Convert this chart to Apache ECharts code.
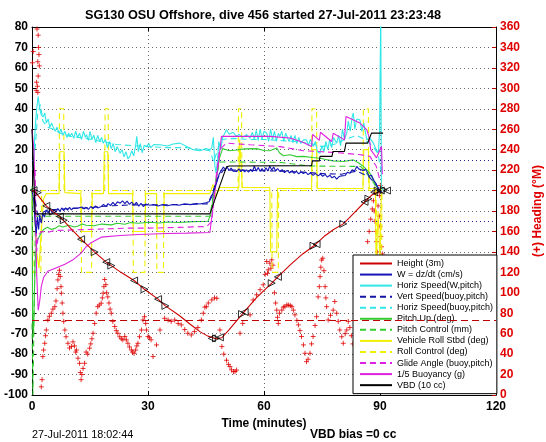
<!DOCTYPE html>
<html><head><meta charset="utf-8">
<script src="https://cdn.jsdelivr.net/npm/echarts@6/dist/echarts.min.js"></script>
<style>html,body{margin:0;padding:0;background:#fff}#c{width:546px;height:442px}</style>
</head><body><div id="c"></div>
<script>
var titleText = 'SG130 OSU Offshore, dive 456 started 27-Jul-2011 23:23:48';
var xTitle = 'Time (minutes)';
var rightTitle = '(+) Heading (\u00B0M)';
var footDate = '27-Jul-2011 18:02:44';
var footBias = 'VBD bias =0 cc';
var seriesNames = ['Height (3m)','W = dz/dt (cm/s)','Horiz Speed(W,pitch)','Vert Speed(buoy,pitch)','Horiz Speed(buoy,pitch)','Pitch Up (deg)','Pitch Control (mm)','Vehicle Roll Stbd (deg)','Roll Control (deg)','Glide Angle (buoy,pitch)','1/5 Buoyancy (g)','VBD (10 cc)'];
var wTargets = [15, -15];
var headingTarget = 73.6;

var heightData = [[0,0],[0.7,-0.5],[2,-3.5],[3.7,-7.5],[5.4,-10.3],[7.2,-12.7],[8,-14.3],[10,-18.5],[12.7,-23.8],[16.2,-30.1],[19.2,-35],[20.5,-36.7],[23,-40],[26.4,-44],[29.1,-48.3],[32.6,-53.1],[34.5,-56.4],[38,-61],[41,-65.5],[43.4,-69],[45.5,-71.2],[47.5,-72.5],[49.1,-72],[51,-68],[54.6,-60],[58,-52.5],[62,-45.3],[63.7,-42],[67,-36],[70,-31],[73.2,-26.6],[75.5,-22.5],[77.9,-19.2],[80.5,-16.3],[83,-11.5],[86.6,-4.5],[88,-2],[90,-0.5]];

var triangleData = [[0.4,0.2],[1.5,-1],[3.7,-7.5],[5.4,-10.3],[7.2,-12.7],[8.2,-14.5],[12.7,-23.8],[16.2,-30.1],[19.2,-35],[20.5,-36.7],[26.4,-44],[29.1,-48.3],[32.6,-53.1],[34.5,-56.4],[46.5,-72.3],[47.6,-72.3],[48.6,-71.8],[54.3,-60.4],[55,-59.4],[62,-45.3],[63.6,-42.2],[72.8,-27],[73.6,-26.2],[80.5,-16.3],[86,-5.5],[87,-4],[88.5,-0.8],[89.4,0],[90.2,0],[91,0.3],[91.8,0]];

var wData = [[0,0],[0.4,-4],[0.8,-16],[1.1,-21],[1.4,-13],[1.7,-19],[2,-12],[2.4,-16],[2.8,-11],[3.2,-13],[3.7,-9.5],[4.2,-11],[4.7,-9],[5.2,-10.8],[5.7,-9.2],[6.2,-10.5],[6.7,-8.8],[7.2,-10.2],[7.7,-8.5],[8.2,-9.8],[8.7,-8.4],[9.2,-9.6],[9.7,-8.2],[10.2,-9.5],[10.7,-8.5],[11.2,-9.3],[11.9,-8.6],[12.4,-9.4],[12.9,-8],[13.4,-9],[14,-8.2],[14.6,-9.2],[15.2,-7.8],[15.8,-8.8],[16.4,-7.5],[17,-8.5],[17.9,-7.8],[18.5,-6.8],[19.1,-7.9],[19.7,-6.4],[20.3,-7.4],[20.9,-5.8],[21.5,-7],[22.1,-5.5],[22.8,-6.2],[23.4,-5],[24,-6.4],[24.6,-5.2],[25.2,-6.8],[25.8,-5.6],[26.4,-7.1],[27,-5.8],[27.6,-7.6],[28.2,-6.3],[28.8,-7.8],[29.4,-6.6],[30.5,-7.2],[31.5,-6.8],[32.6,-7.6],[33.6,-6.9],[35,-7.4],[36.5,-6.8],[38,-7.2],[39.5,-6.5],[41,-6.9],[42.5,-6.3],[43.4,-6.6],[45,-6],[45.8,-5.5],[46.5,-3],[47.2,1],[47.8,4],[48.4,8],[49,10],[49.5,11.5],[50,10.2],[50.5,11.4],[51,9.8],[51.5,11],[52,9.5],[52.5,10.4],[52.9,9.3],[53.5,10.6],[54,9.2],[54.5,10.3],[55,9.1],[55.5,10.1],[56,9],[56.5,10.4],[57,9.2],[57.5,12],[58,9.5],[58.5,11.3],[59,9.4],[59.5,10.8],[60,9.3],[60.5,11.2],[61,9.6],[61.5,12],[62,10],[62.5,11.5],[63,9.6],[63.5,10.8],[64.1,9.3],[64.7,10.2],[65.3,8.8],[66,9.9],[66.6,8.6],[67.2,9.6],[67.8,8.4],[68.4,9.4],[69,8.2],[69.6,9.2],[70.2,8.3],[70.8,9],[71.4,7.8],[72,8.6],[72.7,7.4],[73.3,8.4],[74,7.2],[74.6,8.1],[75.2,7],[75.8,7.9],[76.4,6.6],[77,7.5],[77.6,6.2],[78.2,7],[78.8,5.6],[79.4,6.8],[80,7.2],[80.5,8],[81,7.4],[81.6,9],[82.2,8.4],[82.8,10.2],[83.4,9.6],[84,11.8],[84.5,10.6],[85,11.4],[85.6,9.8],[86.2,10.4],[86.6,9.3],[87.2,7],[87.8,7.5],[88.4,5],[89.1,3],[89.6,1],[90,-1],[90.5,0]];

var horizWData = [[0.3,10],[0.8,30],[1.2,40],[1.6,46],[2,40],[2.4,37],[2.9,36],[3.3,38],[3.7,33],[4.2,35],[4.6,31],[5.1,33],[5.5,31],[6,29],[6.5,31],[7,28],[7.5,30],[8,27],[8.5,29],[9,26],[9.5,28],[9.8,26.5],[10.3,28],[10.8,25.5],[11.3,29],[11.8,26],[12.3,28],[12.8,25],[13.3,29],[13.8,26],[14.1,27.3],[14.6,24.5],[15,29],[15.5,25],[16,27],[16.5,23.5],[17,27],[17.5,24],[18,26],[18.4,23.2],[19,25],[19.5,21],[20,24],[20.5,20.5],[21,23],[21.5,19],[22,21.5],[22.8,18.3],[23.3,20],[23.8,16.5],[24.3,19],[24.8,15.5],[25.3,16.7],[25.8,19.5],[26.3,17],[26.8,22],[27.1,26.5],[27.5,19],[28,23],[28.5,18.5],[29,22],[29.7,21.6],[30.2,23],[30.7,21],[31.5,22.5],[33.1,22.4],[35,21.8],[36.5,22.8],[38.3,23.2],[40,21.5],[41.7,20],[43.4,19.5],[45,20.5],[46,20],[46.5,21],[46.9,26],[47.3,12],[47.6,8.5],[48,15],[48.3,24],[48.8,20],[49.3,26],[50.3,29.7],[51,27.5],[52,28.5],[52.9,26.5],[53.5,27.5],[54.5,26],[55.5,27.3],[56.4,25.7],[57,28.5],[57.5,25],[58,29.5],[58.5,24.5],[59,30],[59.5,25],[60,29],[60.7,28.1],[61.2,24],[61.7,30],[62.2,25],[62.7,29],[63.2,24],[63.7,28],[64.1,26.5],[64.6,29],[65.1,24],[65.6,28],[65.9,28.1],[66.5,24],[67,27],[67.5,23.5],[68,27],[68.5,23],[69,26],[69.5,23],[70.2,24.8],[71,24.8],[71.5,22],[72,25],[72.7,21.6],[73.3,24],[73.8,19],[74.5,18.3],[75,22],[75.5,19],[76,24],[76.5,20],[77,25],[77.5,21],[78,26],[78.8,23.2],[79.3,27],[79.8,22],[80.3,30],[80.8,25],[81.4,28.1],[81.8,34],[82.3,29],[82.8,36],[83.1,37.9],[83.5,30],[84,35],[84.8,34.6],[85.3,29],[85.8,33],[86.6,24.8],[87.3,26],[88.3,23.2],[89,20],[89.6,18.3],[89.9,30],[90.2,90],[90.35,2],[90.8,0]];

var vertBuoyData = [[0.8,-5],[1.5,-12],[2.5,-11],[4,-9.5],[8,-9],[14,-8.5],[20,-7.5],[26,-7],[32,-7],[40,-6.8],[45.5,-6.5],[46.5,-2],[48,6],[49.5,10],[53,10],[58,9.8],[64,9.5],[70,9],[76,8.2],[80,8],[84,9.5],[87,7],[89,3],[90,0]];

var horizBuoyData = [[0.8,20],[1.5,38],[2.2,42],[2.8,34],[4,31],[5.5,30],[8,27.5],[10,26.5],[14,25.5],[18,24],[22,22.5],[26,22],[30,21.5],[35,21],[40,21],[44,20],[46,19.5],[47,14],[48,20],[49,25],[52,25.5],[56,25],[60,25],[64,24.5],[68,24],[72,23],[75,21.5],[78,22.5],[81,25],[84,27],[86,25],[88,22],[89.5,18],[90.2,10]];

var pitchData = [[0,2],[0.15,-60],[0.3,-72],[0.5,-62],[0.8,-35],[1.2,-25],[2,-22],[3,-19],[4,-18],[5,-19],[6,-18.5],[7,-17.2],[8,-17.8],[9.5,-17],[11,-17.8],[11.9,-17.3],[13,-16.4],[14,-17],[16,-17.2],[18,-16.4],[20.5,-16.8],[22,-16],[24,-16.5],[25.5,-15.6],[27.4,-16],[30.5,-15.5],[33,-15.9],[35,-15.4],[38,-15.6],[41.7,-15.2],[45.5,-15],[46.2,-12],[47,-2],[47.8,7],[48.5,16],[49.3,20.5],[51,19.5],[52.9,19.8],[55,20.4],[58.1,20.5],[60,19.6],[61.5,19.5],[63.3,20.8],[64,18.5],[65,17],[66.7,17.5],[68.5,16.6],[70.2,16.7],[72.5,16.2],[74.5,15.8],[76,15.2],[77.9,14.5],[80.5,14.2],[83.1,15],[84.5,13.5],[85.7,11.8],[87.4,8.5],[89.1,2],[90,0]];

var pitchCtlData = [[0,-65],[0.25,-100],[0.6,-100],[0.9,-12.6],[46,-12.6],[47.5,5],[48.5,14],[64,13.8],[72,12],[85,11.8],[88,5],[89.5,0]];

var rollData = [[0,0],[0.6,-8],[1.2,-30],[1.8,-38],[2.4,-20],[3,-4],[3.7,-1.5],[7,-1.5],[7.2,19],[8.3,19],[8.5,-1],[12.6,-1.5],[12.8,-20],[15.4,-20],[15.6,-1.5],[18.5,-1.5],[18.7,19],[19.6,19],[19.8,-1.5],[26,-1.5],[26.2,-20],[29.2,-20],[29.4,-1.5],[32.2,-1.5],[32.4,-20],[34,-20],[34.2,-1.5],[46,-1.5],[46.8,3],[47.5,-3],[48.5,1.5],[53.5,1.5],[53.7,25],[54.2,25],[54.4,1.5],[61.5,1.5],[61.7,-30],[63.3,-30],[63.5,1],[72.3,1],[72.5,20],[73.6,20],[73.8,1],[85.6,1],[85.8,20],[87,20],[87.2,1],[88.8,1],[89,-40],[89.5,-10],[90,-35],[90.4,5]];

var rollCtlData = [[0,0],[0.3,-40],[2.3,-40],[2.5,0],[7,0],[7.1,40],[8.2,40],[8.3,0],[12.7,0],[12.8,-40],[15.4,-40],[15.5,0],[18.8,0],[18.9,40],[19.7,40],[19.8,0],[26.1,0],[26.2,-40],[29.2,-40],[29.3,0],[32.2,0],[32.3,-40],[34,-40],[34.1,0],[46,0],[53.3,0],[53.4,40],[54.2,40],[54.3,0],[62,0],[62.1,-40],[63.7,-40],[63.8,0],[72.3,0],[72.4,40],[73.6,40],[73.7,0],[85.6,0],[85.7,40],[87,40],[87.1,0],[89,0],[89.1,-40],[90.4,-40],[90.5,0]];

var glideData = [[0.8,10],[1.2,-30],[1.6,-22],[2.5,-20],[4,-20.5],[6,-19.5],[11.9,-19.2],[18,-18.8],[24.8,-18.4],[30.5,-18.4],[38,-18],[45.2,-17.6],[46.5,-15],[47.5,5],[48.5,20],[50.3,23.2],[56.4,22.4],[61.5,21.8],[64.1,21.5],[70.2,19.5],[75,19],[80.5,18.3],[85,17.5],[87.4,16.7],[89,12],[90,5]];

var buoyData = [[0,30],[0.5,20],[0.9,-10],[1.2,-40],[1.6,-58.5],[2,-54],[2.4,-47],[3,-42.5],[4.1,-39.5],[6,-38],[8.5,-36],[10.5,-34],[12.7,-30.6],[14,-27.5],[15.3,-25.5],[17.9,-22.8],[22.8,-22],[27.4,-21.5],[35,-21],[40,-20.8],[46,-20.5],[47.5,2],[49,26.5],[55,26.5],[61.5,26.5],[66.7,25.7],[70.2,23.5],[72.3,21.6],[72.6,27.5],[74.3,24.5],[74.6,28.5],[77.5,24],[77.9,28],[80.8,24.8],[81.2,36.2],[84.8,33],[86.6,29.7],[87.2,26],[87.6,20],[89.1,16],[90,20],[90.4,21.6],[90.6,8]];

var vbdData = [[0,30],[0.4,30],[0.8,-11.4],[46,-11.4],[50.3,11.6],[51,12],[72.3,12.2],[72.5,14.5],[74.3,14.5],[74.5,16.7],[77.6,16.7],[77.8,19.1],[80.8,19.1],[81.2,23.2],[86.8,23.2],[87.8,28.1],[90.8,28.1]];

var headingData = [[0.1,325],[0.3,336],[1.3,358],[1.6,352],[1.7,340],[1.8,333],[1.5,326],[1.9,322],[1.6,312],[1.2,306],[1.4,302],[1.1,298],[1.5,296],
[2.4,8],[2.6,15],[2.8,37.6],[3,44],[3.3,50.6],[3.5,58],[3.7,63.6],[4.1,73.4],[4.5,77],[5,80],[5.4,84],[5.9,86.4],[6.2,92],[6.5,104],[6.7,112.6],[6.9,118],[7.1,122],[7.3,116],[7.5,106],[7.6,99.6],[7.8,90],[8,80],[8.2,72],[8.5,63.6],[8.8,57],[9.3,50.6],[9.7,46],[10.2,47.4],[10.6,52],[11,48],[11.3,42],[11.5,44],[11.9,36],[12.3,31],[12.5,22],[12.7,15],[12.9,20],[13.2,26],[13.6,31],[14,42],[14.4,40],[14.9,45.8],[15.2,50],[15.5,55],[15.8,60.4],[16.2,70],[16.6,80],[17,86.4],[17.4,88],[17.9,89.8],[18.2,95],[18.4,99.6],[18.6,106],[18.8,113],[19.1,108],[19.3,100],[19.6,96],[19.9,90],[20.2,84],[20.5,80],[20.9,72],[21.4,67],[21.8,63],[22.2,60.4],[22.7,57],[23.1,55],[23.5,54],[24,57.2],[24.4,54],[24.8,50.6],[25.2,47],[25.7,44],[26,42],[26.4,40.8],[26.8,44],[27.1,48],[27.4,50.6],[27.8,57],[28.3,63.6],[28.7,73.4],[29.1,76.6],[29.4,70],[29.6,63.6],[30,57.2],[30.4,56],[30.8,54],[31.3,37.6],[32.2,49],[33.1,63.6],
[34.3,75],[35.2,73.4],[36,72],[36.9,73.4],[37.8,70],[38.6,68.6],[39.5,64],[40.3,60.4],[41.2,58.8],[42,62],[42.9,66],[43.8,73.4],[44.3,80],[44.7,86],[45.1,86.4],[45.6,90],[46.5,93],[47.2,95],[47.8,94.6],
[48.6,63.6],[49.1,47.4],[49.6,40],[50.3,34],[50.8,30],[51.2,27.8],[51.6,24.6],[52.1,22.8],[52.5,23],[52.9,24.4],[53.8,60.4],[54.5,70],[56.4,78.4],[57.2,93],[58.1,98],[59,103],[59.8,107.8],[60.3,118],[60.7,130.6],[60.9,119],[61.1,122.4],[61.5,129],[61.8,124],[62,132.2],[62.3,127],
[62.7,100],[63,90],[63.3,83],[63.5,76],[63.7,70],[64,80],[64.6,83],[65,86],[65.4,86.4],[65.9,88],[66.3,88],[66.8,87.5],[67.2,86.4],[67.6,83],[68,78.4],[68.5,73],[68.9,68.6],[69.3,63],[69.7,57.2],[70.2,49],[70.6,40.8],[71,32.6],[71.4,35],[71.9,40.8],[72.3,50],[72.7,57.2],[73.2,68],[73.6,76.6],[74,96],[74.3,106],[74.5,115.8],[74.7,125],[74.9,132],[75.2,133.8],[75.5,121.6],[75.8,106],[76,95],[76.2,86.4],[76.6,73.4],[77.2,78],[77.9,83],[78.3,91.4],[78.8,80],[79.2,72],[79.6,63.6],[80.1,57],[80.5,50.6],[81,60],[81.4,63.6],[81.8,72],[82.2,66],[82.6,58],[83,50],
[86.8,150],[87.2,160],[87.6,172],[88,182],[88.3,190],[88.5,180],[88.7,170],[88.9,160],[89.1,150],[89.3,140],[89.5,185],[89.8,175],[90,165],[90.2,155],[90.4,145],[89.7,200],[89.9,195],[90.1,205],[88.9,198],[90.6,138]];

var FONT = '"Liberation Sans", Arial, Helvetica, sans-serif';
var chart = echarts.init(document.getElementById('c'), null, {renderer:'canvas'});

function lineSeries(name, data, color, dashed, z){
  return {name:name, type:'line', data:data, symbol:'none', showSymbol:false, clip:true, z:z||2,
    lineStyle:{color:color, width:1.1, type: dashed ? [6,4] : 'solid'}, itemStyle:{color:color}, silent:true};
}

var series = [
  {name:'heading', type:'scatter', yAxisIndex:1, data:headingData, symbol:'path://M0 5 L10 5 M5 0 L5 10', symbolSize:5, z:1,
    itemStyle:{color:'rgba(0,0,0,0)', borderColor:'#e00000', borderWidth:1}, silent:true,
    markLine:{silent:true, symbol:'none', label:{show:false}, lineStyle:{color:'#c00000', type:[7,4], width:1}, data:[{yAxis:headingTarget}]}},
  lineSeries(seriesNames[7], rollData, '#f0f000', false),
  lineSeries(seriesNames[8], rollCtlData, '#f0f000', true),
  lineSeries(seriesNames[2], horizWData, '#30e6e6', false),
  lineSeries(seriesNames[4], horizBuoyData, '#30e6e6', true),
  lineSeries(seriesNames[5], pitchData, '#33cc33', false),
  lineSeries(seriesNames[6], pitchCtlData, '#33cc33', true),
  lineSeries(seriesNames[9], glideData, '#e020e0', true),
  lineSeries(seriesNames[10], buoyData, '#dd22dd', false),
  lineSeries(seriesNames[3], vertBuoyData, '#1515a5', true),
  lineSeries(seriesNames[1], wData, '#1515b5', false),
  lineSeries(seriesNames[11], vbdData, '#000000', false),
  lineSeries(seriesNames[0], heightData, '#cc0000', false, 4),
  {name:'tri', type:'scatter', data:triangleData.map(function(p,i){return {value:p, symbolRotate:(i%2===0?90:-90)};}),
    symbol:'triangle', symbolSize:7, z:5, silent:true,
    itemStyle:{color:'rgba(0,0,0,0)', borderColor:'#000', borderWidth:1}}
];
series[10].markLine = {silent:true, symbol:'none', label:{show:false}, lineStyle:{color:'#2020a0', type:[1,3], width:1}, data:wTargets.map(function(v){return {yAxis:v};})};

var option = {
  animation:false,
  backgroundColor:'#fff',
  grid:{left:32, right:50, top:27, bottom:47, show:false, containLabel:false, outerBoundsMode:'none'},
  xAxis:[
    {type:'value', min:0, max:120, interval:30, position:'bottom',
     axisLine:{onZero:false, lineStyle:{color:'#000', width:1}},
     axisTick:{inside:true, length:4, lineStyle:{color:'#000'}},
     axisLabel:{color:'#000', fontWeight:'bold', fontSize:12, fontFamily:FONT, margin:6},
     splitLine:{show:true, lineStyle:{color:'#666', type:[1,3], width:1}},
     name:xTitle, nameLocation:'middle', nameGap:16,
     nameTextStyle:{color:'#000', fontWeight:'bold', fontSize:12, fontFamily:FONT}},
    {type:'value', min:0, max:120, interval:30, position:'top',
     axisLine:{onZero:false, lineStyle:{color:'#000', width:1}},
     axisTick:{inside:true, length:4, lineStyle:{color:'#000'}},
     axisLabel:{show:false}, splitLine:{show:false}}
  ],
  yAxis:[
    {type:'value', min:-100, max:80, interval:10, position:'left',
     axisLine:{show:true, onZero:false, lineStyle:{color:'#000', width:1}},
     axisTick:{show:true, inside:true, length:4, lineStyle:{color:'#000'}},
     axisLabel:{color:'#000', fontWeight:'bold', fontSize:12, fontFamily:FONT, margin:4},
     splitLine:{show:true, lineStyle:{color:'#666', type:[1,3], width:1}}},
    {type:'value', min:0, max:360, interval:20, position:'right',
     axisLine:{show:true, onZero:false, lineStyle:{color:'#000', width:1}},
     axisTick:{show:true, inside:true, length:4, lineStyle:{color:'#c00000'}},
     axisLabel:{color:'#e00000', fontWeight:'bold', fontSize:12, fontFamily:FONT, margin:4},
     splitLine:{show:false},
     name:rightTitle, nameLocation:'middle', nameGap:36, nameRotate:90,
     nameTextStyle:{color:'#e00000', fontWeight:'bold', fontSize:12, fontFamily:FONT}}
  ],
  legend:{show:true, data:seriesNames, orient:'vertical', left:353, top:255, width:141,
    itemWidth:32, itemHeight:8, itemGap:2.06, padding:[4,4,4,6], selectedMode:false,
    backgroundColor:'#fff', borderColor:'#000', borderWidth:1, borderRadius:0,
    itemStyle:{opacity:0, borderWidth:0},
    textStyle:{fontSize:9, fontFamily:FONT, color:'#000', lineHeight:9}},
  graphic:[
    {type:'text', x:263, y:15, style:{text:titleText, fill:'#000', font:'bold 12.7px ' + FONT, textAlign:'center', textVerticalAlign:'middle'}},
    {type:'text', x:32, y:435, style:{text:footDate, fill:'#000', font:'10.8px ' + FONT, textAlign:'left', textVerticalAlign:'middle'}},
    {type:'text', x:310, y:435, style:{text:footBias, fill:'#000', font:'bold 12px ' + FONT, textAlign:'left', textVerticalAlign:'middle'}}
  ],
  series:series
};
chart.setOption(option);
</script></body></html>
